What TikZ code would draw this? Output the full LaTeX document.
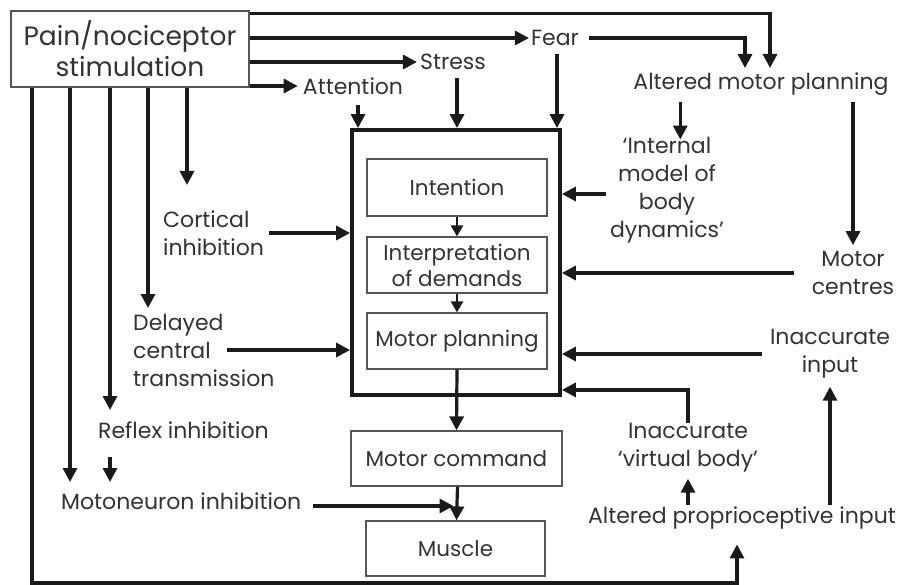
\documentclass[tikz,border=0pt]{standalone}
\usepackage{fontspec}
\setmainfont{Poppins}
\usetikzlibrary{arrows.meta,calc}
\definecolor{ink}{HTML}{1A1A1A}
\definecolor{txt}{HTML}{333333}
\definecolor{edge}{HTML}{555555}
\begin{document}
\begin{tikzpicture}[x=1pt,y=-1pt,
  lbl/.style={text=txt,inner sep=0pt,font=\fontsize{22}{28}\selectfont},
  lbll/.style={lbl,align=left},
  lblc/.style={lbl,align=center},
  stepbox/.style={draw=edge,line width=1.2pt,inner sep=0pt,text=txt,
    font=\fontsize{21.5}{26}\selectfont,align=center},
  mainbox/.style={draw=ink,line width=3.8pt,inner sep=0pt},
  arr/.style={draw=ink,line width=3.2pt,-{Triangle[length=14pt,width=14pt]}},
  smallarr/.style={draw=ink,line width=2.4pt,-{Triangle[length=11pt,width=12pt]}}]
\useasboundingbox (0,0) rectangle (904,585);

% source box
\node[stepbox,minimum width=238pt,minimum height=76pt,
  font=\fontsize{26.5}{31}\selectfont] (pain) at (130,49) {Pain/nociceptor\\stimulation};

% upper labels
\node[lbl] (fear) at (555,38) {Fear};
\node[lbl] (stress) at (453,62) {Stress};
\node[lbl] (att) at (353,86) {Attention};
\node[lbl] (amp) at (761,84) {Altered motor planning};

% central processing block
\node[mainbox,minimum width=208pt,minimum height=265pt] (main) at (456,262.5) {};
\node[stepbox,minimum width=180pt,minimum height=57pt] (int) at (457,187.5) {Intention};
\node[stepbox,minimum width=180pt,minimum height=56pt] (interp) at (457,265) {Interpretation\\of demands};
\node[stepbox,minimum width=180pt,minimum height=56pt] (mplan) at (457,341) {Motor planning};
\node[stepbox,minimum width=211pt,minimum height=55pt] (mcmd) at (456.5,458.5) {Motor command};
\node[stepbox,minimum width=179pt,minimum height=55pt] (muscle) at (455.5,548.5) {Muscle};

% left labels
\node[lbll,anchor=west] (cort) at (163,233) {Cortical\\inhibition};
\node[lbll,anchor=west] (delay) at (133,350) {Delayed\\central\\transmission};
\node[lbl,anchor=west] (reflex) at (98,430) {Reflex inhibition};
\node[lbl,anchor=west] (moto) at (61,501) {Motoneuron inhibition};

% right labels
\node[lblc] (imodel) at (667,190) {`Internal\\model of\\body\\dynamics'};
\node[lblc] (mc) at (853,273) {Motor\\centres};
\node[lblc] (ii) at (830,354) {Inaccurate\\input};
\node[lblc] (ivb) at (688,448) {Inaccurate\\`virtual body'};
\node[lbl] (api) at (742,518) {Altered proprioceptive input};

% arrow end points
\coordinate (ampA) at (745,68);
\coordinate (ampB) at (770,68);
\coordinate (cortTip) at (187,185);
\coordinate (delayTip) at (148,308);
\coordinate (reflexTip) at (110,410);
\coordinate (motoTipA) at (70,482);
\coordinate (motoTipB) at (110,482);
\coordinate (corner) at (32,583);

% connectors leaving the source box to the right
\draw[arr] ([yshift=-3pt]pain.north east) -| (ampB);
\draw[arr] (pain.east |- fear.west) -- ([xshift=-2pt]fear.west);
\draw[arr] (fear.east) ++(10,0) -| (ampA);
\draw[arr] (pain.east |- stress.west) -- ([xshift=-3pt]stress.west);
\draw[arr] (pain.east |- att.west) -- ([xshift=-5pt]att.west);

% inputs to the central block from above
\draw[arr] ([xshift=5pt,yshift=-10pt]att.south) -- ([xshift=5pt]att.south |- main.north);
\draw[arr] ([xshift=4pt,yshift=-8pt]stress.south) -- ([xshift=4pt]stress.south |- main.north);
\draw[arr] ([xshift=2pt,yshift=-8pt]fear.south) -- ([xshift=2pt]fear.south |- main.north);

% processing chain
\draw[smallarr] (int.south) -- (interp.north);
\draw[smallarr] (interp.south) -- (mplan.north);
\draw[arr] (mplan.south) -- (mcmd.north);
\draw[arr] ([xshift=1pt]mcmd.south) -- ([xshift=1pt]muscle.north);

% connectors leaving the source box downwards
\draw[arr] (pain.south -| cortTip) -- (cortTip);
\draw[arr] (pain.south -| delayTip) -- (delayTip);
\draw[arr] (pain.south -| reflexTip) -- (reflexTip);
\draw[arr] (pain.south -| motoTipA) -- (motoTipA);
\draw[arr] ([yshift=-18pt]reflex.south -| motoTipB) -- (motoTipB);
\draw[arr] (pain.south -| corner) -- (corner) -| ([xshift=-5pt,yshift=-15pt]api.south);

% left side into the central block
\draw[arr] ([xshift=5pt]cort.east) -- (cort.east -| main.west);
\draw[arr] ($(delay.west)+(94,0)$) -- (delay.west -| main.west);
\draw[arr] ([yshift=-5pt,xshift=12pt]moto.east) -- ($(moto.east -| muscle.north)+(-2,5)$);

% right side
\draw[arr] ($(amp.south west)+(47,6)$) -- ($(amp.south west)+(47,44)$);
\draw[arr] ([yshift=-6pt]amp.south -| mc.north) -- ([yshift=6pt]mc.north);
\draw[arr] ([xshift=-4pt,yshift=-4pt]imodel.west) -- ([yshift=-4pt]imodel.west -| main.east);
\draw[arr] ([xshift=-18pt]mc.west) -- (mc.west -| main.east);
\draw[arr] ([xshift=-8pt]ii.west) -- (ii.west -| main.east);
\draw[arr] ([yshift=2pt]api.north -| ii.south) -- ([yshift=-8pt]ii.south);
\draw[arr] ([yshift=2pt]api.north -| ivb.south) -- ([yshift=-6pt]ivb.south);
\draw[arr] (ivb.north) |- ($(main.south east)+(0,-7)$);
\end{tikzpicture}
\end{document}
